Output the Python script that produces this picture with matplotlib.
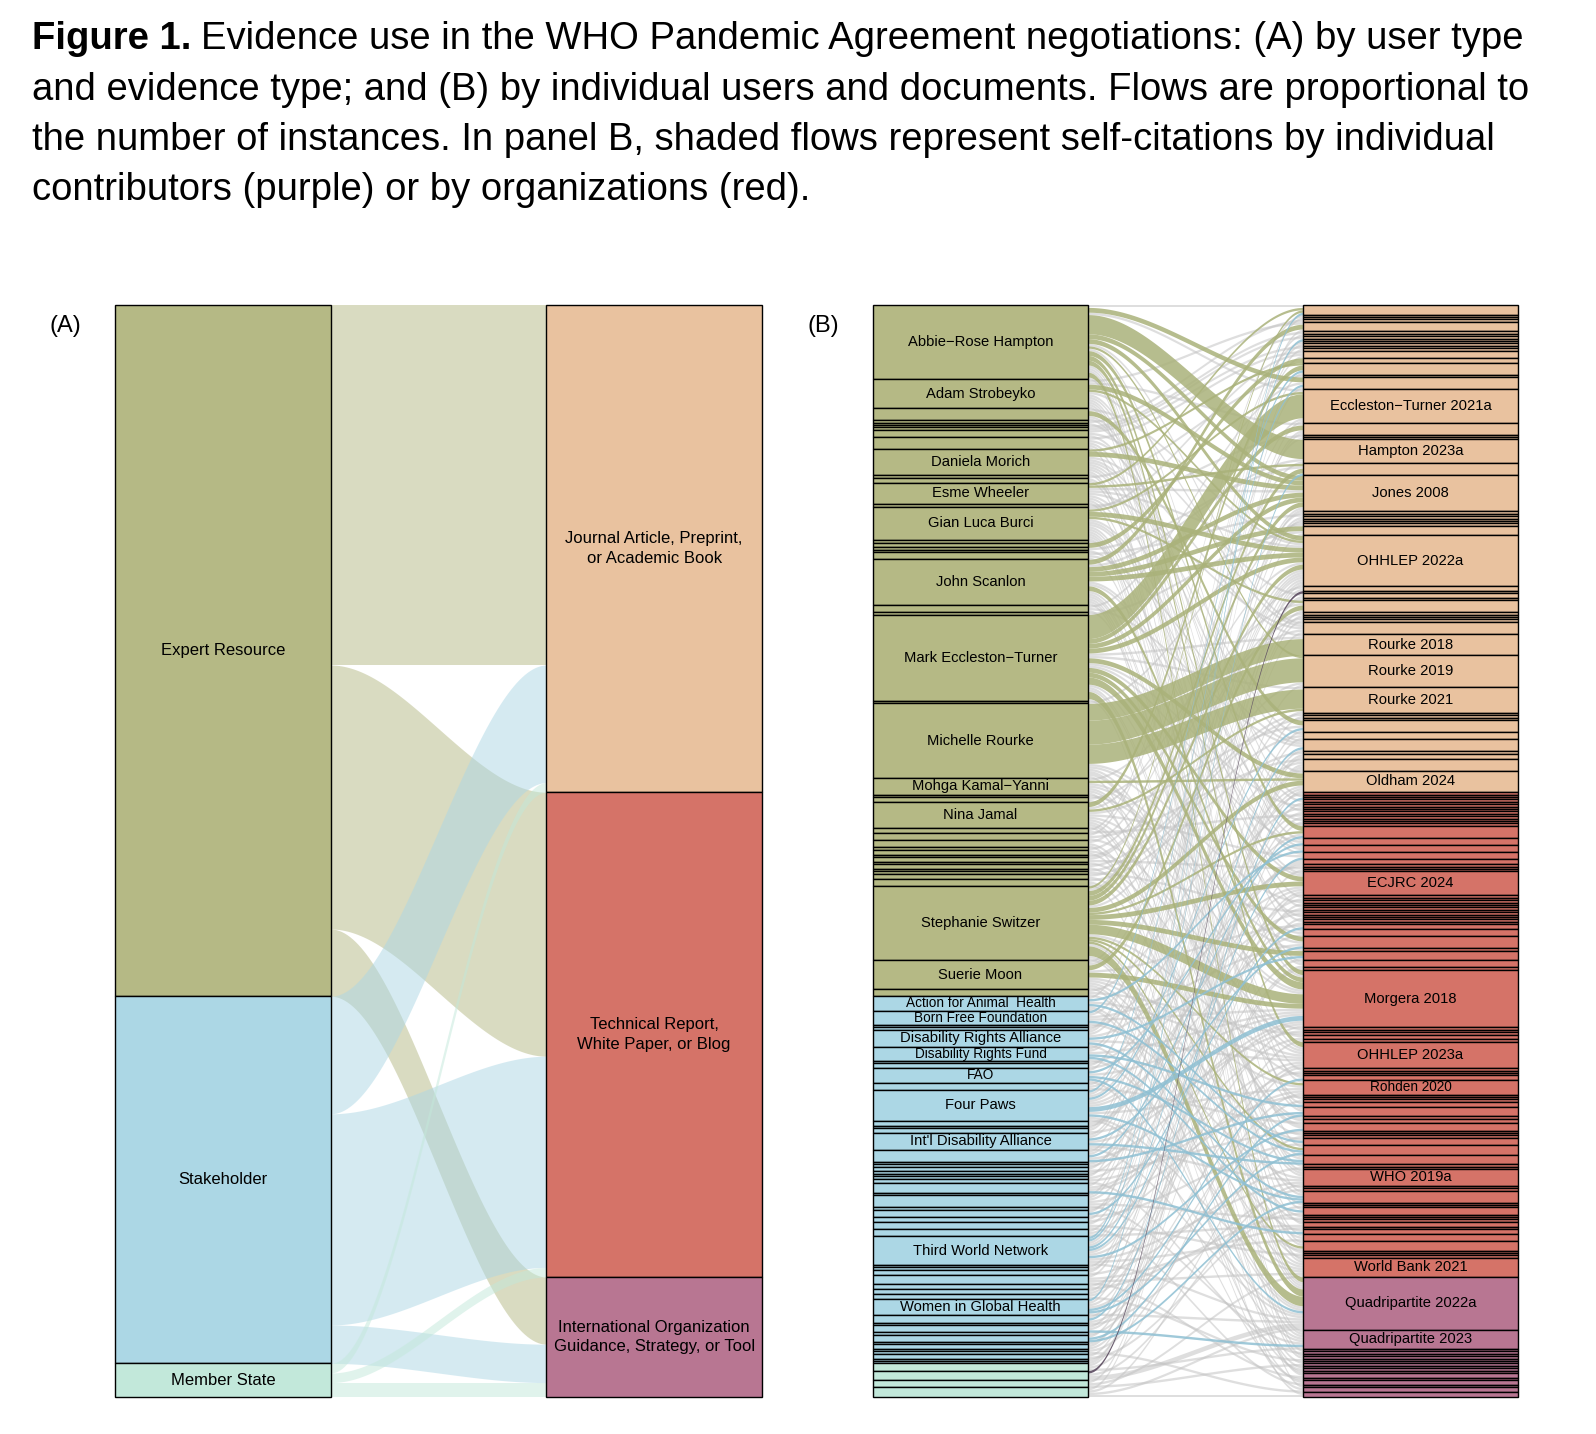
import matplotlib.pyplot as plt
import numpy as np
from matplotlib.patches import Rectangle

plt.rcParams['font.family'] = ['Liberation Sans', 'DejaVu Sans']

# ---------------- Panel A data: user type -> evidence type ----------------
user_types = ['Expert Resource', 'Stakeholder', 'Member State']
evidence_types = ['Journal Article, Preprint,\nor Academic Book',
                  'Technical Report,\nWhite Paper, or Blog',
                  'International Organization\nGuidance, Strategy, or Tool']
type_counts = [[150, 110, 28],   # Expert Resource -> journal, technical, IO
               [49, 88, 16],     # Stakeholder
               [4, 4, 6]]        # Member State

user_colors = ['#b5b985', '#acd7e5', '#c2e8da']
evidence_colors = ['#e9c29f', '#d57368', '#b87692']

# ---------------- Panel B data: individual users -> documents ----------------
left_labels = (['Abbie−Rose Hampton', 'Adam Strobeyko'] + [''] * 7 + ['Daniela Morich'] + [''] * 2
               + ['Esme Wheeler'] + [''] + ['Gian Luca Burci'] + [''] * 5 + ['John Scanlon'] + [''] * 2
               + ['Mark Eccleston−Turner'] + [''] + ['Michelle Rourke', 'Mohga Kamal−Yanni'] + [''] * 2
               + ['Nina Jamal'] + [''] * 13 + ['Stephanie Switzer', 'Suerie Moon'] + ['']
               + ['Action for Animal  Health', 'Born Free Foundation'] + [''] * 2
               + ['Disability Rights Alliance', 'Disability Rights Fund'] + [''] * 2 + ['FAO'] + ['']
               + ['Four Paws'] + [''] * 3 + ["Int'l Disability Alliance"] + [''] * 16
               + ['Third World Network'] + [''] * 7 + ['Women in Global Health'] + [''] * 12
               + [''] * 4)
left_group = [0] * 46 + [1] * 52 + [2] * 4

right_labels = ([''] * 18 + ['Eccleston−Turner 2021a'] + [''] * 3 + ['Hampton 2023a'] + [''] + ['Jones 2008']
                + [''] * 7 + ['OHHLEP 2022a'] + [''] * 10 + ['Rourke 2018', 'Rourke 2019', 'Rourke 2021']
                + [''] * 9 + ['Oldham 2024']
                + [''] * 22 + ['ECJRC 2024'] + [''] * 19 + ['Morgera 2018'] + [''] * 5 + ['OHHLEP 2023a']
                + [''] * 4 + ['Rohden 2020'] + [''] * 16 + ['WHO 2019a'] + [''] * 17 + ['World Bank 2021']
                + ['Quadripartite 2022a', 'Quadripartite 2023'] + [''] * 16)
right_group = [0] * 56 + [1] * 89 + [2] * 18

# for every document (top to bottom), the users citing it (one entry per instance)
cited_by = [
    # journal articles, preprints, academic books
    [0, 43, 85, 12], [30], [54], [3], [20, 20, 66, 1], [5], [46], [6], [77], [31], [49], [7], [58],
    [14, 50, 8], [16, 16], [29, 29, 47, 9, 74], [10], [0, 0, 56, 21, 70],
    [23, 23, 23, 23, 23, 23, 23, 23, 23, 23, 0, 14, 44, 61],
    [23, 23, 1, 69, 59], [13], [51],
    [0, 0, 0, 0, 0, 0, 0, 0, 43, 20],
    [43, 43, 12, 77, 17],
    [0, 0, 1, 1, 9, 9, 20, 20, 23, 23, 43, 43, 12, 56, 60],
    [53], [19], [55], [64], [32], [24], [20, 20, 71, 22],
    [0, 0, 14, 14, 20, 20, 23, 23, 29, 43, 43, 44, 1, 2, 12, 47, 50, 51, 77, 85, 61],
    [33, 73], [99], [7, 75], [60], [14, 44, 44, 76, 26], [35], [78], [36], [80], [0, 1, 12, 81, 28],
    [25, 25, 25, 25, 25, 25, 25, 23, 9],
    [25, 25, 25, 25, 25, 25, 25, 25, 25, 25, 0, 43, 77],
    [25, 25, 25, 25, 25, 25, 25, 25, 23, 29, 56],
    [38], [83], [39], [29, 2, 2, 56, 86], [8, 88, 41], [9, 19, 21, 77, 90], [42], [100, 92],
    [45, 31, 95, 97, 101],
    [23, 23, 43, 43, 9, 26, 56, 71, 98],
    # technical reports, white papers, blogs
    [62], [0], [86], [4], [91], [23], [48], [7], [65], [30], [79], [14], [96], [12],
    [0, 0, 43, 55, 61], [23, 54, 2], [20, 46, 9], [14, 77, 29], [57, 57], [52], [36], [83],
    [43, 43, 23, 23, 14, 20, 56, 77, 85, 50],
    [1], [63], [25], [88], [2], [72], [40], [53], [18], [92], [9], [67],
    [44, 73], [25, 56, 8], [23, 23, 47, 60, 26], [27], [43, 43, 50, 76], [1, 82, 12], [84],
    [43, 43, 43, 43, 23, 23, 23, 0, 0, 44, 44, 20, 20, 29, 26, 9, 56, 56, 60, 47, 51, 77, 54, 61],
    [31], [59], [45], [69, 34], [89],
    [0, 0, 14, 23, 43, 25, 46, 50, 69, 85, 98],
    [8], [74], [37], [20, 85],
    [43, 44, 1, 56, 71, 86],
    [68], [15], [93], [51, 11], [0, 14, 90, 61], [26], [29, 55], [25, 25, 77], [64], [41], [101],
    [44, 46, 73], [43, 1, 47, 85], [20, 26, 54, 60], [19], [80],
    [23, 20, 12, 60, 77, 47, 99],
    [38], [87], [23, 0, 50, 56, 90], [21], [95], [14, 51, 82], [32], [71], [42], [9, 76], [81],
    [44, 69], [29, 77, 11], [43, 20, 1, 45], [28], [75], [34],
    [0, 14, 29, 43, 56, 51, 81, 100],
    # international organization guidance
    [0, 0, 23, 23, 23, 43, 43, 43, 43, 20, 14, 44, 9, 46, 54, 56, 60, 77, 85, 99, 99, 101],
    [43, 25, 12, 50, 71, 98, 88, 20],
    [0], [68], [1], [14], [84], [26], [100], [29], [46], [32], [23, 81], [54], [43, 75], [8],
    [44, 94], [42, 101],
]

# (user, document) pairs that are self-citations -> shaded flows
self_citations = [
    (23, 18), (0, 22), (25, 43), (25, 44), (25, 45), (43, 0), (43, 23), (43, 78), (43, 98), (43, 95),
    (43, 70), (43, 140), (43, 122), (43, 145), (43, 109), (43, 24), (43, 32), (43, 55), (0, 24), (0, 32),
    (0, 17), (0, 70), (0, 104), (0, 145), (0, 98), (0, 44), (23, 24), (23, 32), (23, 55), (23, 19),
    (23, 98), (23, 93), (23, 145), (23, 78), (20, 4), (20, 31), (20, 24), (20, 32), (20, 98), (14, 18),
    (14, 32), (14, 37), (44, 37), (44, 98), (1, 24), (1, 32), (9, 24), (9, 15), (12, 0), (12, 23),
    (29, 15), (29, 45), (26, 55), (2, 49), (16, 14),
    (56, 17), (56, 49), (56, 129), (56, 98), (77, 8), (77, 23), (77, 51), (77, 73), (77, 117), (60, 93),
    (60, 123), (85, 0), (85, 108), (85, 122), (50, 95), (50, 129), (47, 15), (47, 122), (46, 72),
    (46, 121), (54, 71), (54, 123), (54, 145), (61, 70), (61, 114), (90, 114), (90, 129), (51, 113),
    (51, 132), (86, 58), (73, 91), (88, 146), (69, 138),
    (99, 34),
]
self_flow_colors = ['#aab27a', '#8fc0d3', '#5b4b60']

title_lines = [
    'Evidence use in the WHO Pandemic Agreement negotiations: (A) by user type',
    'and evidence type; and (B) by individual users and documents. Flows are proportional to',
    'the number of instances. In panel B, shaded flows represent self-citations by individual',
    'contributors (purple) or by organizations (red).',
]

W, H = 1596, 1434
fig = plt.figure(figsize=(W / 100, H / 100), dpi=100)
fig.patch.set_facecolor('white')


def panel_axes(left_px, right_px):
    ax = fig.add_axes([left_px / W, (H - 1397) / H, (right_px - left_px) / W, (1397 - 305) / H])
    ax.set_xlim(0.75, 2.25)
    ax.axis('off')
    return ax


def band(ax, top0, bot0, top1, bot1, color, alpha, zorder):
    t = np.linspace(0, 1, 80)
    s = t * t * (3 - 2 * t)
    xs = 1.25 + 0.5 * t
    ax.fill_between(xs, top0 + (top1 - top0) * s, bot0 + (bot1 - bot0) * s,
                    color=color, alpha=alpha, lw=0, zorder=zorder, clip_on=False)


def node(ax, x, top, n, color, label, fs):
    ax.add_patch(Rectangle((x - 0.25, top), 0.5, n, facecolor=color, edgecolor='black',
                           lw=1.0, zorder=5, clip_on=False))
    if label:
        ax.text(x, top + n / 2, label, ha='center', va='center', fontsize=fs,
                linespacing=1.4, zorder=6)


# ---------------- Panel A ----------------
axA = panel_axes(115, 762)
counts = np.array(type_counts)
totA = counts.sum()
axA.set_ylim(totA, 0)
l_tot = counts.sum(axis=1)
r_tot = counts.sum(axis=0)
l_start = np.concatenate([[0], np.cumsum(l_tot)[:-1]])
r_start = np.concatenate([[0], np.cumsum(r_tot)[:-1]])
l_cur = l_start.astype(float)
r_cur = r_start.astype(float)
for i in range(len(user_types)):
    for j in range(len(evidence_types)):
        n = counts[i, j]
        band(axA, l_cur[i], l_cur[i] + n, r_cur[j], r_cur[j] + n, user_colors[i], 0.5, 1)
        l_cur[i] += n
        r_cur[j] += n
for i, lab in enumerate(user_types):
    node(axA, 1, l_start[i], l_tot[i], user_colors[i], lab, 12)
for j, lab in enumerate(evidence_types):
    node(axA, 2, r_start[j], r_tot[j], evidence_colors[j], lab, 12)

# ---------------- Panel B ----------------
axB = panel_axes(873, 1518)
flow_n = {}
for r, citers in enumerate(cited_by):
    for l in citers:
        flow_n[(l, r)] = flow_n.get((l, r), 0) + 1
left_size = np.zeros(len(left_labels))
right_size = np.zeros(len(right_labels))
for (l, r), n in flow_n.items():
    left_size[l] += n
    right_size[r] += n
totB = left_size.sum()
axB.set_ylim(totB, 0)
ls = np.concatenate([[0], np.cumsum(left_size)[:-1]])
rs = np.concatenate([[0], np.cumsum(right_size)[:-1]])

lcur = ls.copy()
ltop = {}
for key in sorted(flow_n, key=lambda p: (p[0], p[1])):
    ltop[key] = lcur[key[0]]
    lcur[key[0]] += flow_n[key]
rcur = rs.copy()
rtop = {}
for key in sorted(flow_n, key=lambda p: (p[1], p[0])):
    rtop[key] = rcur[key[1]]
    rcur[key[1]] += flow_n[key]

self_set = set(self_citations)
for key, n in flow_n.items():
    if key not in self_set:
        band(axB, ltop[key], ltop[key] + n, rtop[key], rtop[key] + n, '#c4c4c4', 0.55, 1)
for key, n in flow_n.items():
    if key in self_set:
        g = left_group[key[0]]
        band(axB, ltop[key], ltop[key] + n, rtop[key], rtop[key] + n, self_flow_colors[g],
             0.85 if g < 2 else 0.9, 2 + g)

for i, lab in enumerate(left_labels):
    node(axB, 1, ls[i], left_size[i], user_colors[left_group[i]], lab,
         10.6 if left_size[i] >= 7 else 9.8)
for j, lab in enumerate(right_labels):
    node(axB, 2, rs[j], right_size[j], evidence_colors[right_group[j]], lab,
         10.6 if right_size[j] >= 7 else 9.8)

fig.text(65 / W, 1 - 326 / H, '(A)', fontsize=17, ha='center', va='center')
fig.text(823 / W, 1 - 326 / H, '(B)', fontsize=17, ha='center', va='center')

# ---------------- Caption ----------------
renderer = fig.canvas.get_renderer()
line_y = [39, 90, 140, 190]
t0 = fig.text(32 / W, 1 - line_y[0] / H, 'Figure 1.', fontsize=27.5, fontweight='bold', va='center')
bb = t0.get_window_extent(renderer=renderer)
fig.text(bb.x1 / W + 10 / W, 1 - line_y[0] / H, title_lines[0], fontsize=27.5, va='center')
for k in range(1, 4):
    fig.text(32 / W, 1 - line_y[k] / H, title_lines[k], fontsize=27.5, va='center')

fig.savefig('out.png', dpi=100, facecolor='white')
